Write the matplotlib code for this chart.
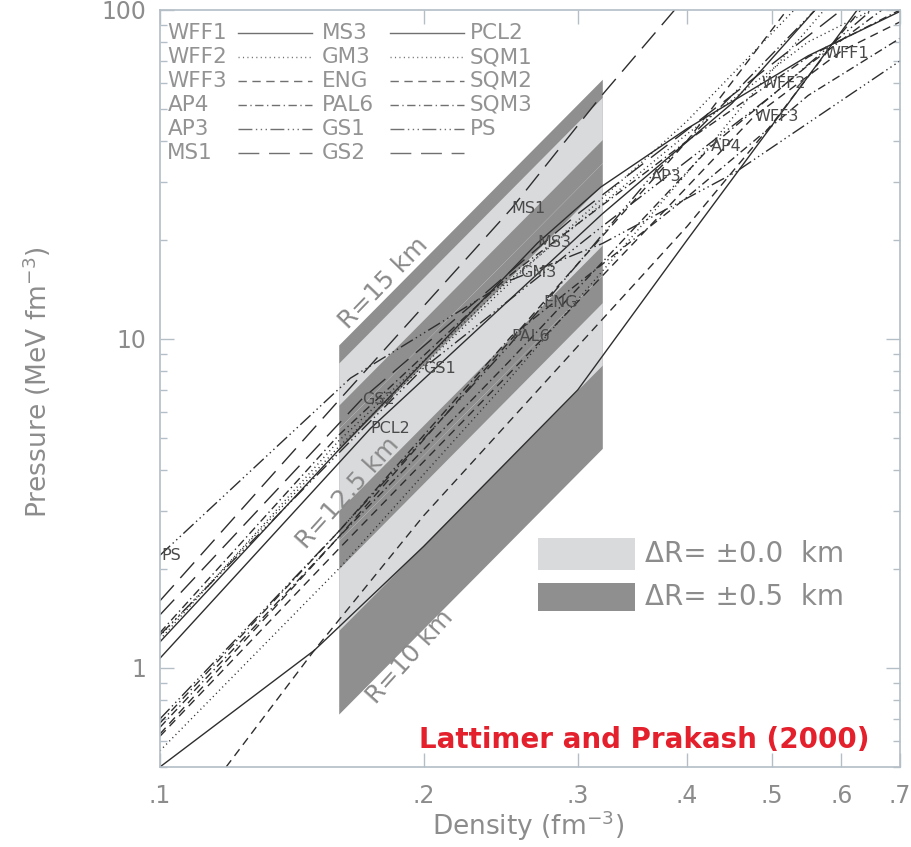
import numpy as np
import matplotlib.pyplot as plt
from matplotlib.patches import Rectangle
from matplotlib.ticker import FixedLocator, NullLocator, NullFormatter

# Radius bands: pressure limits at the two band edges (n = 0.16 and 0.32 fm^-3)
band_n = [0.16, 0.32]
band_radii = ['15', '12.5', '10']
dark_hi_016 = [9.59, 5.35, 2.44]
dark_lo_016 = [5.35, 2.44, 0.724]
dark_hi_032 = [61.6, 34.3, 15.7]
dark_lo_032 = [34.3, 15.7, 4.65]
light_hi_016 = [8.45, 4.59, 2.00]
light_lo_016 = [6.29, 3.01, 1.30]
light_hi_032 = [54.3, 29.5, 12.9]
light_lo_032 = [40.4, 19.3, 8.33]

# Equations of state: density (fm^-3) and pressure (MeV fm^-3)
wff1_n = [0.10, 0.15, 0.20, 0.30, 0.40, 0.50, 0.60, 0.65]
wff1_p = [0.50, 1.13, 2.34, 7.0, 20.0, 44.6, 86.0, 115.0]
wff2_n = [0.10, 0.16, 0.25, 0.40, 0.486, 0.60]
wff2_p = [0.56, 2.0, 7.5, 32.0, 59.9, 115.0]
wff3_n = [0.10, 0.16, 0.25, 0.40, 0.477, 0.60, 0.70]
wff3_p = [0.62, 2.3, 7.8, 29.0, 47.5, 75.0, 92.0]
ap4_n = [0.10, 0.16, 0.25, 0.426, 0.55, 0.70]
ap4_p = [0.66, 2.5, 8.5, 38.5, 68.0, 110.0]
ap3_n = [0.10, 0.16, 0.25, 0.364, 0.45, 0.56]
ap3_p = [0.70, 2.6, 9.5, 31.2, 55.0, 100.0]
ms1_n = [0.10, 0.16, 0.252, 0.319, 0.387]
ms1_p = [1.6, 6.5, 24.9, 54.7, 100.0]
ms3_n = [0.10, 0.16, 0.27, 0.319, 0.40, 0.55, 0.70]
ms3_p = [1.2, 4.6, 19.6, 29.0, 43.6, 72.6, 99.0]
gm3_n = [0.10, 0.16, 0.258, 0.40, 0.53]
gm3_p = [1.25, 4.7, 15.9, 46.0, 100.0]
eng_n = [0.10, 0.16, 0.274, 0.40, 0.52]
eng_p = [0.63, 2.5, 12.9, 40.0, 100.0]
pal6_n = [0.10, 0.16, 0.252, 0.40, 0.55, 0.70]
pal6_p = [0.68, 2.6, 10.2, 27.0, 55.0, 82.0]
gs1_n = [0.10, 0.16, 0.20, 0.32, 0.50, 0.65]
gs1_p = [1.26, 4.5, 8.16, 22.0, 55.0, 100.0]
gs2_n = [0.10, 0.17, 0.30, 0.45, 0.60]
gs2_p = [1.45, 6.56, 24.0, 55.0, 100.0]
pcl2_n = [0.10, 0.174, 0.32, 0.45, 0.56]
pcl2_p = [1.07, 5.35, 24.0, 52.0, 100.0]
sqm1_n = [0.10, 0.16, 0.25, 0.40, 0.55, 0.65]
sqm1_p = [1.22, 4.9, 15.0, 42.0, 80.0, 100.0]
sqm2_n = [0.119, 0.15, 0.20, 0.30, 0.40, 0.50, 0.60, 0.65]
sqm2_p = [0.5, 1.13, 2.9, 9.5, 22.0, 45.0, 85.0, 110.0]
sqm3_n = [0.10, 0.16, 0.25, 0.40, 0.55, 0.70]
sqm3_p = [1.28, 5.1, 15.5, 40.0, 72.0, 100.0]
ps_n = [0.10, 0.165, 0.25, 0.32, 0.453, 0.70]
ps_p = [2.2, 7.6, 15.0, 19.5, 32.0, 70.0]

x_ticks = [0.1, 0.2, 0.3, 0.4, 0.5, 0.6, 0.7]
x_ticklabels = ['.1', '.2', '.3', '.4', '.5', '.6', '.7']
y_ticks = [1, 10, 100]
y_ticklabels = ['1', '10', '100']

# line patterns
solid = '-'
dotted = (0, (0.8, 2.4))
dashed = (0, (6, 4))
dashdot = (0, (6, 2.5, 1, 2.5))
dash3dot = (0, (10, 2.5, 1, 2.5, 1, 2.5, 1, 2.5))
longdash = (0, (15, 7))

eos = [
    ('WFF1', wff1_n, wff1_p, solid),
    ('WFF2', wff2_n, wff2_p, dotted),
    ('WFF3', wff3_n, wff3_p, dashed),
    ('AP4', ap4_n, ap4_p, dashdot),
    ('AP3', ap3_n, ap3_p, dash3dot),
    ('MS1', ms1_n, ms1_p, longdash),
    ('MS3', ms3_n, ms3_p, solid),
    ('GM3', gm3_n, gm3_p, dotted),
    ('ENG', eng_n, eng_p, dashed),
    ('PAL6', pal6_n, pal6_p, dashdot),
    ('GS1', gs1_n, gs1_p, dash3dot),
    ('GS2', gs2_n, gs2_p, longdash),
    ('PCL2', pcl2_n, pcl2_p, solid),
    ('SQM1', sqm1_n, sqm1_p, dotted),
    ('SQM2', sqm2_n, sqm2_p, dashed),
    ('SQM3', sqm3_n, sqm3_p, dashdot),
    ('PS', ps_n, ps_p, dash3dot),
]

# where the curve names sit inside the plot
label_pos = {
    'WFF1': (0.574, 73.5), 'WFF2': (0.486, 59.9), 'WFF3': (0.477, 47.5),
    'AP4': (0.426, 38.5), 'AP3': (0.364, 31.2), 'MS1': (0.252, 24.9),
    'MS3': (0.270, 19.6), 'GM3': (0.258, 15.9), 'ENG': (0.274, 12.9),
    'PAL6': (0.252, 10.2), 'GS1': (0.200, 8.16), 'GS2': (0.170, 6.56),
    'PCL2': (0.174, 5.35), 'PS': (0.1005, 2.2),
}

grey_txt = '#8c8c8c'
axis_col = '#b4bec6'
light = '#d9dadc'
dark = '#8f8f8f'
line_col = '#2e2e2e'

fig = plt.figure(figsize=(9.11, 8.47), dpi=100)
ax = fig.add_axes([0.1756, 0.0945, 0.8123, 0.8937])
ax.set_xscale('log')
ax.set_yscale('log')

# shaded radius bands
for i in range(len(band_radii)):
    ax.fill_between(band_n, [dark_lo_016[i], dark_lo_032[i]],
                    [dark_hi_016[i], dark_hi_032[i]], color=dark, lw=0, zorder=1)
for i in range(len(band_radii)):
    ax.fill_between(band_n, [light_lo_016[i], light_lo_032[i]],
                    [light_hi_016[i], light_hi_032[i]], color=light, lw=0, zorder=1.5)

for name, n, p, ls in eos:
    ax.plot(n, p, color=line_col, lw=1.0, linestyle=ls, zorder=2)

for name, (xn, yp) in label_pos.items():
    ax.text(xn, yp, name, fontsize=11.5, color='#4a4a4a', ha='left', va='center', zorder=3)

# band names
band_txt = dict(fontsize=18, color='#8a8a8a', ha='center', va='center', zorder=4)
ax.text(0.180, 14.8, 'R=15 km', rotation=46, **band_txt)
ax.text(0.164, 3.4, 'R=12.5 km', rotation=48, **band_txt)
ax.text(0.193, 1.08, 'R=10 km', rotation=48, **band_txt)

ax.set_xlim(0.1, 0.7)
ax.set_ylim(0.5, 100)

ax.xaxis.set_major_locator(FixedLocator(x_ticks))
ax.set_xticklabels(x_ticklabels)
ax.xaxis.set_minor_locator(NullLocator())
ax.yaxis.set_major_locator(FixedLocator(y_ticks))
ax.set_yticklabels(y_ticklabels)
minor_y = [0.5, 0.6, 0.7, 0.8, 0.9] + list(range(2, 10)) + list(range(20, 100, 10))
ax.yaxis.set_minor_locator(FixedLocator(minor_y))
ax.yaxis.set_minor_formatter(NullFormatter())

ax.tick_params(which='both', direction='in', top=True, right=True, color=axis_col,
               labelcolor=grey_txt, labelsize=17, width=1)
ax.tick_params(which='major', length=10)
ax.tick_params(which='minor', length=5)
ax.tick_params(axis='x', pad=12)
ax.tick_params(axis='y', pad=10)
for sp in ax.spines.values():
    sp.set_color(axis_col)
    sp.set_linewidth(1.2)

# axis titles
fig.text(528 / 911, 1 - 826 / 847, 'Density (fm$^{-3}$)', fontsize=19,
         color=grey_txt, ha='center', va='center')
fig.text(37 / 911, 1 - 382 / 847, 'Pressure (MeV fm$^{-3}$)', fontsize=19,
         color=grey_txt, ha='center', va='center', rotation=90)

# line-style key in the upper left
rows = [['WFF1', 'MS3', 'PCL2'], ['WFF2', 'GM3', 'SQM1'], ['WFF3', 'ENG', 'SQM2'],
        ['AP4', 'PAL6', 'SQM3'], ['AP3', 'GS1', 'PS'], ['MS1', 'GS2', None]]
styles = {name: ls for name, n, p, ls in eos}
col_x = [0.010, 0.219, 0.419]
seg_x = [(0.106, 0.205), (0.311, 0.411)]
for r, row in enumerate(rows):
    yy = 0.9696 - r * 0.0317
    for c, name in enumerate(row):
        if name is None:
            continue
        ax.text(col_x[c], yy, name, transform=ax.transAxes, fontsize=15.5,
                color='#939393', ha='left', va='center')
        if c < 2:
            ax.plot(seg_x[c], [yy, yy], transform=ax.transAxes, color='#707070',
                    lw=1.0, linestyle=styles[name])

# key for the band shading
ax.add_patch(Rectangle((0.511, 0.260), 0.131, 0.042, transform=ax.transAxes,
                       color=light, lw=0, zorder=3))
ax.add_patch(Rectangle((0.511, 0.206), 0.131, 0.037, transform=ax.transAxes,
                       color=dark, lw=0, zorder=3))
ax.text(0.655, 0.281, '\u0394R= \u00b10.0  km', transform=ax.transAxes, fontsize=20,
        color=grey_txt, ha='left', va='center')
ax.text(0.655, 0.2245, '\u0394R= \u00b10.5  km', transform=ax.transAxes, fontsize=20,
        color=grey_txt, ha='left', va='center')

ax.text(0.959, 0.036, 'Lattimer and Prakash (2000)', transform=ax.transAxes,
        fontsize=20, fontweight='bold', family='DejaVu Sans', color='#e3202c',
        ha='right', va='center')

fig.savefig('out.png', dpi=100)
